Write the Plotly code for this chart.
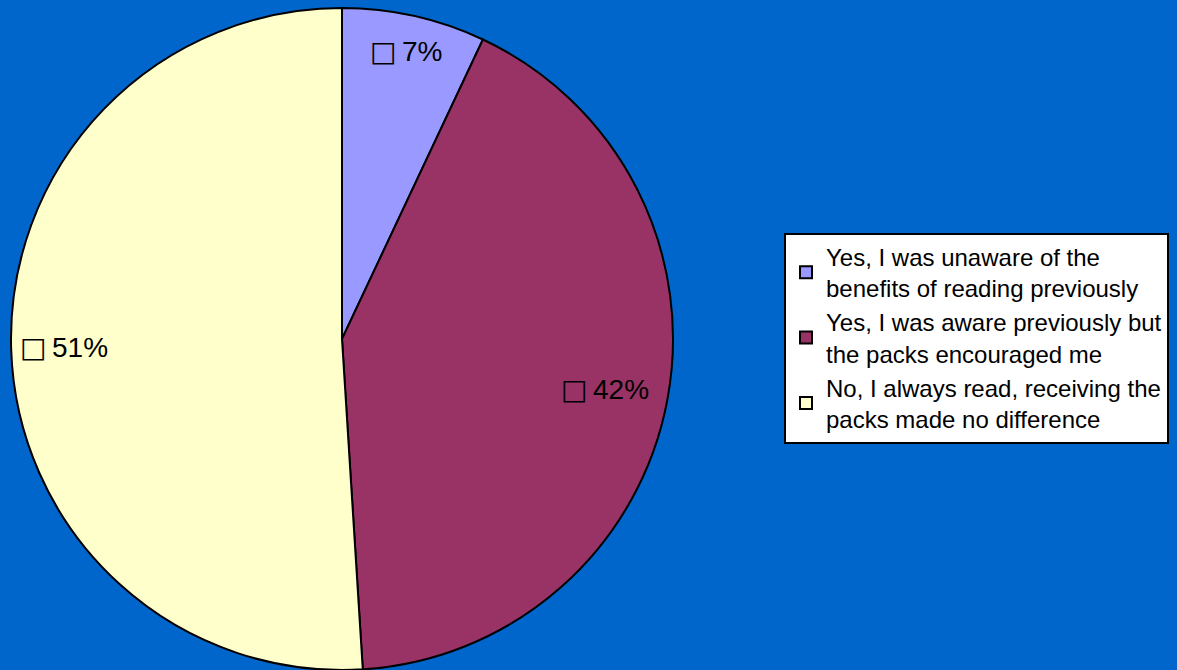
import numpy as np
import plotly.graph_objects as go

labels = [
    "Yes, I was unaware of the<br>benefits of reading previously",
    "Yes, I was aware previously but<br>the packs encouraged me",
    "No, I always read, receiving the<br>packs made no difference",
]
values = [7, 42, 51]
colors = ["#9999FF", "#993366", "#FFFFCC"]

W, H = 1177, 670
cx, cy, R = 342, 339, 331
label_r = [0.89, 0.81, 0.84]

fig = go.Figure()
fig.add_trace(
    go.Pie(
        labels=labels,
        values=values,
        sort=False,
        direction="clockwise",
        rotation=0,
        marker=dict(colors=colors, line=dict(color="black", width=2)),
        textinfo="none",
        hoverinfo="label+percent",
        domain=dict(x=[(cx - R) / W, (cx + R) / W], y=[(H - cy - R) / H, (H - cy + R) / H]),
    )
)

# etiquetas de porcentaje, en el angulo medio de cada sector
total = sum(values)
cum = np.cumsum(values) - np.array(values) / 2
for v, c, f in zip(values, cum, label_r):
    ang = np.deg2rad(c / total * 360)
    x = cx + f * R * np.sin(ang)
    y = cy - f * R * np.cos(ang)
    fig.add_annotation(
        x=x / W, y=1 - y / H, xref="paper", yref="paper",
        text="<span style='font-family:DejaVu Sans'>\u25a1\u2009</span>" + f"{round(v / total * 100)}%",
        showarrow=False,
        font=dict(size=28, color="black", family="Liberation Sans, Arial"),
        xanchor="center", yanchor="middle",
    )

fig.update_layout(
    width=W,
    height=H,
    margin=dict(l=0, r=0, t=0, b=0),
    paper_bgcolor="#0066CC",
    plot_bgcolor="#0066CC",
    font=dict(family="Liberation Sans, Arial", color="black"),
    legend=dict(
        x=784 / W, y=1 - 338 / H, xanchor="left", yanchor="middle",
        bgcolor="white", bordercolor="black", borderwidth=2,
        font=dict(size=24, color="black"),
        itemwidth=30,
    ),
)

# quitar el margen por defecto del body
fig.write_html("out.html", config={"displayModeBar": False},
               post_script="document.body.style.margin='0';")
